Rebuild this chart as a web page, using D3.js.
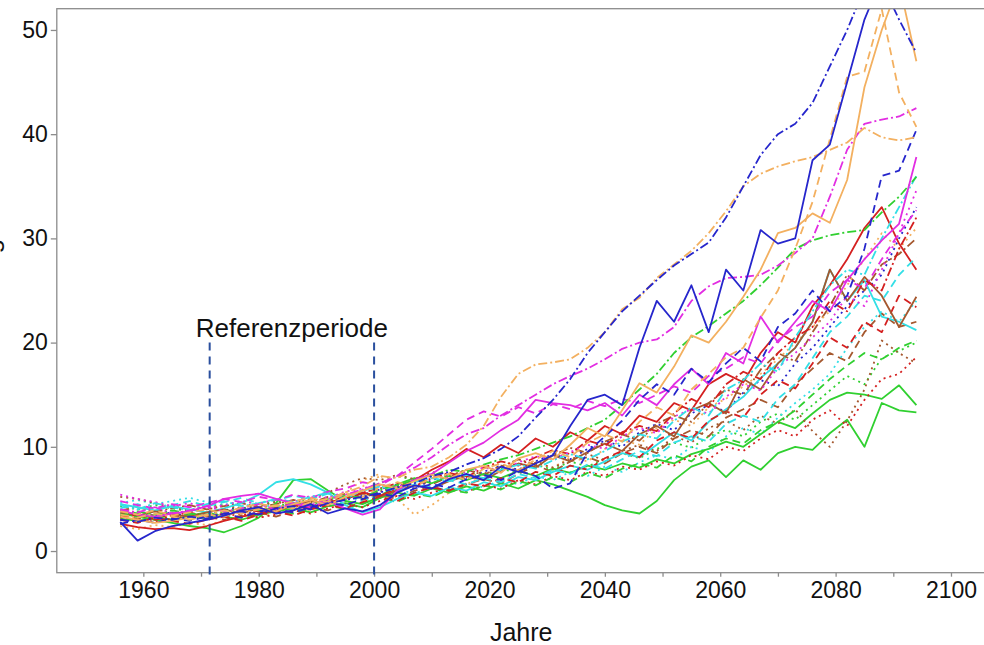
<!DOCTYPE html>
<html>
<head>
<meta charset="utf-8">
<script src="https://cdn.jsdelivr.net/npm/d3@7"></script>
<style>
body { margin: 0; background: #fff; }
svg { display: block; font-family: "Liberation Sans", Arial, sans-serif; }
</style>
</head>
<body>
<script>
// years (every 3rd year)
var years = [1956,1959,1962,1965,1968,1971,1974,1977,1980,1983,
             1986,1989,1992,1995,1998,2001,2004,2007,2010,2013,
             2016,2019,2022,2025,2028,2031,2034,2037,2040,2043,
             2046,2049,2052,2055,2058,2061,2064,2067,2070,2073,
             2076,2079,2082,2085,2088,2091,2094];

var yTicks = [0,10,20,30,40,50];
var xTicks = [1960,1970,1980,1990,2000,2010,2020,2030,2040,2050,2060,2070,2080,2090,2100];
var refPeriod = [1971.5, 2000];
var refTop = 20;

// model runs
var blueDotdash = [3.0,2.8,3.2,3.0,3.3,3.1,3.6,3.8,3.5,4.1, 4.3,4.0,4.6,4.9,5.2,5.6,6.1,6.5,7.2,7.6,
  8.3,8.9,9.8,11.0,12.8,14.5,16.5,19.0,21.0,23.0, 24.5,26.0,27.4,28.5,29.6,32.0,35.0,38.0,40.0,41.0, 43.0,46.5,50.0,54.0,54.5,51.0,47.8];
var blueSolid = [2.8,1.0,1.9,2.4,2.7,3.0,3.4,3.9,4.2,3.6, 3.9,4.5,3.6,4.1,3.8,4.4,5.6,6.3,6.0,6.9,
  7.4,6.8,8.1,7.6,8.4,9.2,12.0,14.5,15.0,14.0, 19.5,24.0,22.0,25.5,21.0,27.0,25.0,30.8,29.5,30.0, 37.5,39.0,45.0,51.0,55.0,57.0,58.0];
var orangeSolid = [3.3,3.0,2.7,2.9,3.2,3.5,3.3,3.9,4.1,3.8, 4.5,4.9,4.4,5.2,5.8,6.4,6.0,6.7,7.3,6.9,
  7.8,8.2,7.5,8.9,9.4,8.8,10.2,11.8,11.0,13.5, 16.1,15.2,17.7,20.7,20.0,22.0,24.4,27.0,30.5,31.0, 32.4,31.5,35.6,44.5,50.0,54.5,47.0];
var orangeDashed = [3.8,3.5,3.9,3.4,3.7,4.0,3.6,4.2,4.5,4.3, 4.8,5.1,4.7,5.5,5.2,6.1,6.6,6.2,7.0,7.4,
  6.8,7.9,8.4,7.7,8.8,9.6,9.0,10.4,11.2,10.5, 12.4,13.8,13.0,15.5,17.0,18.6,19.5,22.4,25.0,29.0, 33.5,39.5,45.5,46.0,52.0,44.0,40.7];
var orangeDotdash = [3.5,3.2,3.6,3.3,3.0,3.4,3.9,3.6,4.0,4.4, 4.1,4.7,5.0,5.6,6.2,7.2,7.0,7.8,8.1,9.0,
  10.2,12.0,14.8,17.0,17.9,18.1,18.4,19.5,21.0,23.2, 24.3,26.2,27.5,28.8,30.5,32.6,35.0,36.2,36.9,37.4, 37.8,38.5,39.2,40.6,39.7,39.4,39.7];
var magentaDotdash = [4.0,3.7,4.2,3.6,3.9,4.3,3.8,4.1,4.5,4.0, 4.6,4.4,5.0,5.4,5.9,6.5,7.2,8.0,9.0,10.2,
  11.2,11.8,13.0,14.0,15.0,16.0,16.8,17.5,18.4,19.4, 20.0,20.3,21.5,24.0,25.4,26.2,26.3,26.5,27.4,28.6, 30.0,34.0,38.5,41.0,41.4,41.7,42.5];
var blueDashed = [2.6,3.0,2.7,3.1,2.9,3.3,3.6,3.2,3.8,4.0, 3.7,4.2,4.6,4.4,5.0,5.5,5.2,6.0,6.4,6.1,
  6.9,7.3,6.8,7.7,7.2,6.0,6.5,9.5,11.0,12.5, 14.5,16.0,15.0,17.5,16.2,18.0,19.5,18.2,21.5,22.8, 25.0,23.0,24.5,29.0,36.0,36.5,40.4];
var magentaSolid = [3.9,3.5,3.3,3.6,3.8,4.3,5.0,5.3,5.5,5.0, 4.6,4.2,4.8,4.1,3.5,4.0,5.8,6.8,7.4,8.5,
  9.6,10.4,11.6,12.6,14.5,14.2,14.0,13.5,14.2,13.0, 15.0,14.0,16.0,17.5,16.0,19.0,18.0,22.5,20.0,22.0, 24.0,23.0,26.0,28.0,29.8,31.4,37.8];
var greenDotdash = [3.4,3.8,3.5,3.9,3.6,3.4,3.8,4.1,3.9,4.3, 4.6,4.4,5.0,5.3,5.1,5.9,6.3,6.8,7.2,7.8,
  7.6,8.3,8.8,9.2,9.8,10.4,11.0,11.8,12.6,14.0, 15.5,17.0,19.0,20.5,21.6,22.8,24.0,25.5,27.2,29.0, 29.8,30.3,30.6,30.8,32.5,34.0,35.9];
var cyanDotdash = [4.4,4.0,4.6,4.2,3.9,4.5,4.8,4.3,4.6,5.0, 4.7,5.2,5.6,5.0,5.8,6.2,5.9,6.6,7.0,6.7,
  7.3,7.0,7.8,8.3,7.9,8.7,9.3,8.8,9.6,10.5, 11.2,10.8,12.5,13.8,13.0,15.5,16.4,18.0,17.2,20.5, 23.0,25.5,27.0,26.5,30.0,33.0,36.0];
var magentaDotted = [5.4,5.0,4.7,4.3,4.6,4.1,4.4,4.8,4.5,5.0, 4.7,5.3,5.1,5.7,6.0,6.4,6.1,6.9,7.2,7.0,
  7.6,8.0,7.7,8.5,9.1,8.8,9.5,10.2,9.8,11.0, 11.8,11.3,12.9,13.6,13.2,14.8,16.0,15.4,17.6,19.0, 20.5,22.0,24.5,23.5,27.0,30.5,34.6];
var redDotdash = [3.2,3.5,3.0,3.4,3.7,3.3,3.6,4.0,3.8,4.2, 4.5,4.2,4.9,5.2,5.6,6.0,6.5,6.2,7.0,7.5,
  7.1,8.0,8.6,8.2,9.0,9.7,9.3,10.6,10.1,11.4, 12.0,11.5,13.2,14.6,13.8,16.0,17.2,16.5,19.0,20.5, 21.5,24.0,23.0,26.0,25.0,29.0,32.0];
var magentaDashed = [4.8,4.4,4.1,4.5,4.2,4.6,5.0,4.7,5.2,4.9, 5.4,5.1,5.7,6.0,6.6,6.3,7.2,8.5,9.8,11.2,
  12.6,13.4,12.9,13.8,13.2,14.1,13.6,14.4,13.9,14.6, 14.2,15.0,15.8,15.2,16.8,17.5,18.6,18.0,20.2,21.5, 22.5,24.8,26.0,25.2,28.0,30.5,32.7];
var cyanDashed = [4.1,4.5,4.0,4.4,4.8,4.3,4.7,5.1,4.6,4.9, 5.3,5.0,5.5,5.2,5.8,6.2,5.7,6.4,6.1,6.8,
  6.4,7.0,6.6,7.4,7.0,7.8,7.4,8.3,7.9,8.8, 9.6,9.1,10.4,11.0,10.5,12.2,13.0,12.4,14.6,16.0, 18.5,21.0,22.5,24.5,24.0,26.5,28.2];
var redSolid = [2.6,2.3,2.1,2.2,2.0,2.4,2.9,3.3,3.6,3.9, 4.4,4.1,4.7,5.0,5.6,5.3,6.0,6.8,7.8,8.6,
  9.8,9.0,10.2,9.4,10.8,10.0,11.4,10.6,12.0,11.2, 13.0,12.4,14.2,13.5,16.0,17.0,16.2,19.0,21.0,20.0, 23.5,25.5,28.0,31.0,33.0,29.5,27.0];
var brownSolid = [3.7,3.4,3.8,3.5,3.3,3.7,4.0,3.6,4.1,3.9, 4.3,4.8,4.5,5.0,5.5,5.2,5.8,6.3,6.0,6.7,
  7.2,6.8,7.7,8.4,8.0,9.2,8.6,9.5,10.3,9.6, 11.2,12.0,11.0,13.5,14.2,13.2,16.5,15.5,18.0,19.5, 22.0,27.0,24.0,26.3,24.5,21.5,24.4];
var redDashed = [3.0,2.7,3.2,2.9,2.6,3.0,3.3,2.9,3.5,3.8, 3.4,4.0,4.4,4.1,4.7,5.2,4.8,5.6,6.1,5.8,
  6.5,6.2,7.0,6.6,7.6,7.2,8.2,7.8,8.9,9.6, 9.0,10.6,11.4,10.8,12.5,13.4,12.8,15.0,16.4,15.6, 18.0,20.5,19.5,22.0,21.0,24.5,23.4];
var cyanSolid = [4.5,4.2,3.9,4.3,4.0,3.7,4.1,4.6,5.4,6.6, 6.9,6.4,5.6,4.4,3.7,4.2,5.0,5.6,5.3,6.1,
  5.8,6.6,6.2,7.1,6.8,7.6,8.2,7.8,8.6,9.4, 9.0,10.2,11.4,10.6,12.4,13.6,14.8,16.6,18.0,19.5, 22.0,27.0,24.0,26.0,22.5,22.0,21.2];
var greenDashed = [3.9,3.6,3.3,3.7,3.4,3.1,3.5,3.2,3.6,3.9, 3.6,4.1,4.4,4.0,4.6,5.1,4.7,5.5,5.2,5.9,
  5.6,6.3,5.9,6.7,6.3,7.1,6.6,7.5,7.0,7.9, 8.4,8.0,9.2,8.6,10.0,10.8,10.3,11.6,12.4,13.5, 15.0,16.5,17.8,19.0,18.4,19.5,20.2];
var brownDotted = [5.2,5.0,4.6,4.2,3.9,4.1,4.4,4.0,4.3,4.7, 4.4,5.0,5.6,6.4,7.0,6.8,7.3,6.9,7.6,7.2,
  7.8,7.4,8.2,7.7,8.5,8.0,8.8,9.3,8.7,9.6, 10.2,9.6,11.0,10.4,11.8,12.5,11.6,13.0,12.2,13.6, 11.5,10.0,12.5,15.5,20.2,19.0,18.0];
var redDotted = [3.3,3.0,2.8,3.1,3.4,3.0,3.3,3.6,3.2,3.5, 3.9,3.6,4.1,4.5,4.2,4.8,5.3,5.0,5.6,6.0,
  5.7,6.3,6.0,6.8,6.4,7.2,6.8,7.6,7.2,8.1, 7.8,8.6,8.2,9.2,8.8,10.0,9.6,10.8,11.6,11.0, 12.6,13.5,12.0,14.5,16.5,17.0,18.6];
var greenSolid = [3.6,3.3,3.0,2.7,2.4,2.2,1.8,2.4,3.2,4.6, 6.8,6.9,5.8,4.8,4.5,5.2,6.4,7.0,6.5,7.2,
  6.8,7.4,7.0,7.7,7.2,7.9,7.5,8.2,7.8,8.4, 8.0,8.8,8.4,9.3,9.8,10.5,10.0,11.2,12.4,11.8, 13.2,14.5,15.2,15.0,14.6,15.9,14.0];
var greenSolidLow = [3.1,2.9,3.3,3.0,3.4,3.7,3.3,3.0,3.5,3.8, 4.1,3.7,4.3,4.6,4.2,5.1,5.6,5.3,6.0,5.6,
  6.2,5.8,6.5,6.0,6.8,6.4,5.8,5.2,4.4,3.9, 3.6,4.8,6.8,8.1,8.7,7.1,8.7,7.8,9.4,10.0, 9.7,11.3,12.6,10.0,14.2,13.5,13.3];
var orangeDotted = [2.4,2.1,2.5,2.3,2.7,2.5,2.9,3.4,3.2,3.7, 4.2,3.9,4.8,5.6,6.8,7.4,5.0,3.5,4.4,5.6,
  6.4,7.2,6.8,7.8,8.4,8.0,9.0,8.6,9.8,10.6, 10.2,11.8,12.6,12.0,13.8,14.6,15.8,17.0,18.4,20.0, 21.5,23.0,25.5,28.0,30.5,29.0,31.0];
var cyanDotted = [4.6,4.9,4.5,4.8,5.1,4.7,4.4,4.8,4.5,4.2, 4.6,4.3,4.9,5.2,4.8,5.4,5.9,5.5,6.2,5.8,
  6.5,6.1,6.8,6.4,7.2,6.8,7.6,7.2,8.1,7.6, 8.5,9.2,8.8,10.0,9.5,11.0,11.8,11.2,12.8,14.2, 15.5,17.0,19.5,21.5,23.0,22.0,24.0];
var brownDashed = [3.4,3.1,3.5,3.2,3.6,3.3,3.0,3.4,3.7,3.3, 3.8,4.2,3.9,4.5,4.9,5.4,5.0,5.8,6.2,5.7,
  6.4,6.9,6.5,7.4,8.2,7.6,8.6,9.0,8.4,9.4, 10.0,9.4,10.8,11.6,11.0,12.8,13.6,14.5,13.8,16.0, 17.5,19.0,18.2,21.0,22.8,21.5,22.0];
var brownDotdash = [3.9,4.2,3.8,4.1,4.4,4.0,4.3,4.6,4.2,4.5, 4.9,4.6,5.2,5.5,5.1,5.7,6.2,6.8,6.4,7.1,
  7.8,7.3,8.1,8.8,8.3,9.2,9.9,9.4,10.5,11.2, 10.6,12.2,13.0,12.4,14.2,15.5,15.0,17.4,19.0,18.2, 21.0,23.5,26.5,25.0,27.5,28.5,30.0];
var blueDotted = [3.5,3.8,3.4,3.7,3.3,3.6,3.9,4.2,3.8,4.1, 4.4,4.0,4.6,5.0,5.4,5.9,6.4,6.0,6.8,7.3,
  6.9,7.6,8.2,7.8,8.6,9.3,8.8,9.8,10.6,10.0, 11.4,12.2,11.6,13.2,14.0,13.4,15.2,16.4,15.8,18.0, 19.5,21.5,23.5,25.0,26.5,30.0,33.0];
var greenDotted = [4.3,4.0,4.4,4.1,3.8,4.2,4.5,4.1,4.4,4.8, 4.5,5.0,4.7,5.3,5.8,6.5,7.2,6.8,7.5,7.0,
  7.6,7.2,7.9,7.5,8.3,7.8,8.6,8.1,8.9,9.4, 8.9,9.8,10.4,9.9,11.0,11.6,11.0,12.4,13.2,12.6, 14.0,15.4,16.8,16.0,18.5,19.2,20.0];

// colours and line types
var col = { blue: "#2626cc", orange: "#f3b060", magenta: "#e22de2", green: "#30d030",
            cyan: "#33dfe6", red: "#d42020", brown: "#a5582f" };
var lty = { solid: null, dashed: "8,5", dotted: "2,4", dotdash: "9,3,2,3" };

var runs = [
  [greenDotted, "green", "dotted"], [blueDotted, "blue", "dotted"], [brownDotdash, "brown", "dotdash"],
  [brownDashed, "brown", "dashed"], [cyanDotted, "cyan", "dotted"], [orangeDotted, "orange", "dotted"],
  [greenSolidLow, "green", "solid"], [greenSolid, "green", "solid"], [redDotted, "red", "dotted"],
  [brownDotted, "brown", "dotted"], [greenDashed, "green", "dashed"], [cyanSolid, "cyan", "solid"],
  [redDashed, "red", "dashed"], [brownSolid, "brown", "solid"], [redSolid, "red", "solid"],
  [cyanDashed, "cyan", "dashed"], [magentaDashed, "magenta", "dashed"], [redDotdash, "red", "dotdash"],
  [magentaDotted, "magenta", "dotted"], [cyanDotdash, "cyan", "dotdash"], [greenDotdash, "green", "dotdash"],
  [magentaSolid, "magenta", "solid"], [blueDashed, "blue", "dashed"], [magentaDotdash, "magenta", "dotdash"],
  [orangeDotdash, "orange", "dotdash"], [orangeDashed, "orange", "dashed"], [orangeSolid, "orange", "solid"],
  [blueSolid, "blue", "solid"], [blueDotdash, "blue", "dotdash"]
];

var width = 984, height = 645;
var pLeft = 56.8, pTop = 8.7, pBottom = 572.7, pRight = 985.6;

var svg = d3.select("body").append("svg")
  .attr("width", width)
  .attr("height", height);

var x = d3.scaleLinear().domain([1945, 2106]).range([pLeft, pRight]);
var y = d3.scaleLinear().domain([-2.08, 52.04]).range([pBottom, pTop]);

svg.append("clipPath").attr("id", "plot")
  .append("rect")
    .attr("x", pLeft).attr("y", pTop)
    .attr("width", pRight - pLeft).attr("height", pBottom - pTop);

var line = d3.line()
  .x(function(d, i) { return x(years[i]); })
  .y(function(d) { return y(d); });

svg.append("g").attr("clip-path", "url(#plot)")
  .selectAll("path")
  .data(runs)
  .enter().append("path")
    .attr("d", function(d) { return line(d[0]); })
    .attr("fill", "none")
    .attr("stroke", function(d) { return col[d[1]]; })
    .attr("stroke-width", 1.8)
    .attr("stroke-linejoin", "round")
    .attr("stroke-dasharray", function(d) { return lty[d[2]]; });

// frame
svg.append("rect")
  .attr("x", pLeft).attr("y", pTop)
  .attr("width", pRight - pLeft).attr("height", pBottom - pTop)
  .attr("fill", "none")
  .attr("stroke", "#8c8c8c")
  .attr("stroke-width", 1.3);

// axes
var xAxis = d3.axisBottom(x)
  .tickValues(xTicks)
  .tickSize(4)
  .tickPadding(5)
  .tickFormat(function(d) { return d % 20 === 0 ? d : ""; });

var gx = svg.append("g")
  .attr("transform", "translate(0," + pBottom + ")")
  .call(xAxis);

var yAxis = d3.axisLeft(y)
  .tickValues(yTicks)
  .tickSize(6)
  .tickPadding(3);

var gy = svg.append("g")
  .attr("transform", "translate(" + pLeft + ",0)")
  .call(yAxis);

[gx, gy].forEach(function(g) {
  g.select(".domain").remove();
  g.selectAll(".tick line").attr("stroke", "#8c8c8c").attr("stroke-width", 1.3);
  g.selectAll(".tick text")
    .attr("fill", "#111")
    .style("font-size", "23px")
    .style("font-family", "\"Liberation Sans\", Arial, sans-serif");
});

// reference period
svg.selectAll("line.ref")
  .data(refPeriod)
  .enter().append("line")
    .attr("class", "ref")
    .attr("x1", function(d) { return x(d); })
    .attr("x2", function(d) { return x(d); })
    .attr("y1", y(refTop))
    .attr("y2", pBottom + 4)
    .attr("stroke", "#2a4f9e")
    .attr("stroke-width", 2)
    .attr("stroke-dasharray", "8,6");

svg.append("text")
  .attr("x", (x(refPeriod[0]) + x(refPeriod[1])) / 2)
  .attr("y", 337)
  .attr("text-anchor", "middle")
  .style("font-size", "26px")
  .attr("fill", "#111")
  .text("Referenzperiode");

// axis titles
svg.append("text")
  .attr("x", (pLeft + pRight) / 2)
  .attr("y", 641)
  .attr("text-anchor", "middle")
  .style("font-size", "25px")
  .attr("fill", "#111")
  .text("Jahre");

// y title sits mostly outside the picture, only a descender shows
svg.append("text")
  .attr("transform", "translate(-1,296) rotate(-90)")
  .attr("text-anchor", "middle")
  .style("font-size", "26px")
  .attr("fill", "#111")
  .text("Anzahl Tage");
</script>
</body>
</html>
